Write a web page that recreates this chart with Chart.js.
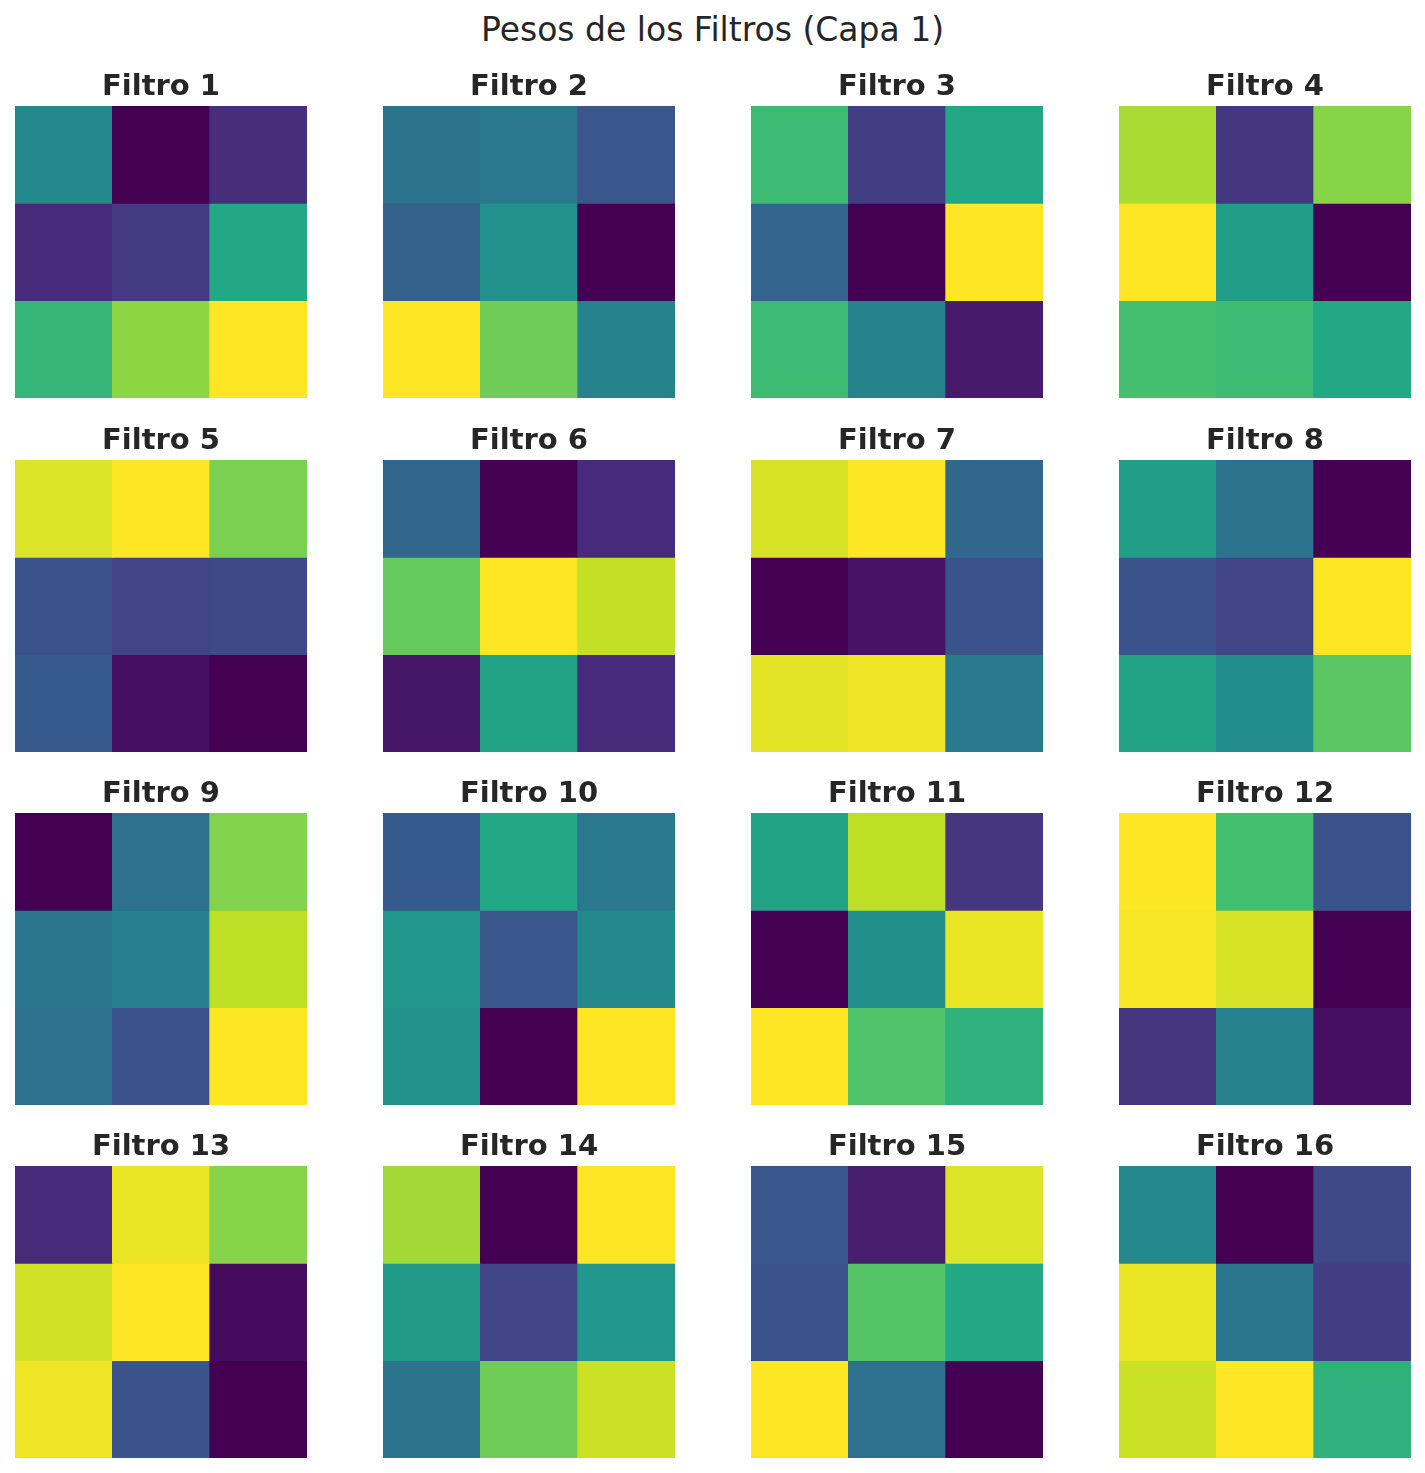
<!DOCTYPE html>
<html>
<head>
<meta charset="utf-8">
<script src="https://cdn.jsdelivr.net/npm/chart.js@4/dist/chart.umd.min.js"></script>
<style>
  body { margin: 0; background: #fff; }
  #page { position: relative; width: 1425px; height: 1473px; }
  #mainTitle {
    position: absolute; left: 0; top: 10px; width: 1425px; text-align: center;
    font-family: "DejaVu Sans", sans-serif; font-size: 33px; line-height: 40px; color: #262626;
  }
  .cell { position: absolute; width: 292px; height: 332px; }
</style>
</head>
<body>
<div id="page">
  <div id="mainTitle">Pesos de los Filtros (Capa 1)</div>
</div>
<script>
// normalised weights per filter, row by row (3x3)
const filtro1 = [0.47, 0.0, 0.13, 0.12, 0.17, 0.6, 0.66, 0.83, 1.0];
const filtro2 = [0.38, 0.4, 0.27, 0.31, 0.5, 0.0, 1.0, 0.78, 0.44];
const filtro3 = [0.68, 0.18, 0.6, 0.32, 0.0, 1.0, 0.68, 0.44, 0.07];
const filtro4 = [0.87, 0.16, 0.82, 1.0, 0.55, 0.0, 0.7, 0.68, 0.6];
const filtro5 = [0.95, 1.0, 0.8, 0.26, 0.2, 0.22, 0.28, 0.04, 0.0];
const filtro6 = [0.33, 0.0, 0.12, 0.76, 1.0, 0.91, 0.06, 0.58, 0.12];
const filtro7 = [0.94, 1.0, 0.33, 0.0, 0.05, 0.26, 0.96, 0.98, 0.4];
const filtro8 = [0.55, 0.38, 0.0, 0.26, 0.2, 1.0, 0.58, 0.48, 0.74];
const filtro9 = [0.0, 0.37, 0.81, 0.39, 0.43, 0.9, 0.37, 0.25, 1.0];
const filtro10 = [0.28, 0.6, 0.4, 0.52, 0.27, 0.47, 0.5, 0.0, 1.0];
const filtro11 = [0.58, 0.9, 0.16, 0.0, 0.49, 0.97, 1.0, 0.72, 0.64];
const filtro12 = [1.0, 0.7, 0.26, 0.99, 0.94, 0.0, 0.15, 0.44, 0.04];
const filtro13 = [0.12, 0.97, 0.82, 0.93, 1.0, 0.03, 0.98, 0.26, 0.0];
const filtro14 = [0.86, 0.0, 1.0, 0.54, 0.2, 0.52, 0.38, 0.78, 0.92];
const filtro15 = [0.27, 0.08, 0.95, 0.26, 0.73, 0.6, 1.0, 0.37, 0.0];
const filtro16 = [0.47, 0.0, 0.22, 0.97, 0.39, 0.18, 0.92, 1.0, 0.64];

const filtros = [filtro1, filtro2, filtro3, filtro4, filtro5, filtro6, filtro7, filtro8,
  filtro9, filtro10, filtro11, filtro12, filtro13, filtro14, filtro15, filtro16];
const colLabels = ["0", "1", "2"];
const rowLabels = [0, 1, 2];

// viridis stops
const viridis = [
  [68, 1, 84], [72, 36, 117], [65, 68, 135], [53, 95, 141], [42, 120, 142],
  [33, 145, 140], [34, 168, 132], [68, 191, 112], [122, 209, 81], [189, 223, 38], [253, 231, 37]
];
function viridisColor(v) {
  const t = Math.max(0, Math.min(1, v)) * 10;
  const i = Math.min(9, Math.floor(t));
  const f = t - i;
  const a = viridis[i], b = viridis[i + 1];
  const c = a.map((x, k) => Math.round(x + (b[k] - x) * f));
  return `rgb(${c[0]},${c[1]},${c[2]})`;
}

const colLeft = [15, 383, 751, 1119];
const rowTop = [106, 460, 813, 1166];
const page = document.getElementById("page");

filtros.forEach((vals, idx) => {
  const div = document.createElement("div");
  div.className = "cell";
  div.style.left = colLeft[idx % 4] + "px";
  div.style.top = (rowTop[Math.floor(idx / 4)] - 40) + "px";
  const canvas = document.createElement("canvas");
  div.appendChild(canvas);
  page.appendChild(div);

  const datasets = rowLabels.map(r => ({
    data: colLabels.map(() => [r, r + 1]),
    backgroundColor: vals.slice(r * 3, r * 3 + 3).map(viridisColor),
    borderWidth: 0,
    grouped: false,
    categoryPercentage: 1,
    barPercentage: 1
  }));

  new Chart(canvas.getContext("2d"), {
    type: "bar",
    data: { labels: colLabels, datasets: datasets },
    options: {
      responsive: true,
      maintainAspectRatio: false,
      animation: false,
      layout: { padding: 0 },
      scales: {
        x: { display: false },
        y: { display: false, min: 0, max: 3, reverse: true }
      },
      plugins: {
        legend: { display: false },
        tooltip: { enabled: false },
        title: {
          display: true,
          text: "Filtro " + (idx + 1),
          color: "#262626",
          font: { family: "DejaVu Sans", size: 29, weight: "bold", lineHeight: "34px" },
          padding: { top: 4, bottom: 2 }
        }
      }
    }
  });
});
</script>
</body>
</html>
